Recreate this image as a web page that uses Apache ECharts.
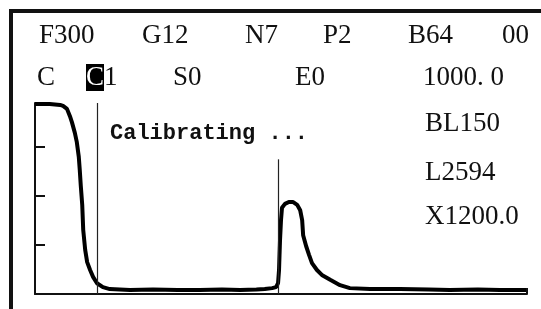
<!DOCTYPE html>
<html>
<head>
<meta charset="utf-8">
<script src="https://cdn.jsdelivr.net/npm/echarts@6/dist/echarts.min.js"></script>
<style>
  html, body { margin: 0; padding: 0; background: #fff; }
  #chart { width: 541px; height: 309px; }
</style>
</head>
<body>
<div id="chart"></div>
<script>
// trace (x = channel, y = signal)
var traceX = [0, 30, 51, 57, 65, 71, 75, 81, 85, 89, 91, 93, 96, 98, 102, 106, 112, 118, 126, 138, 152, 193,
  240, 290, 335, 380, 417, 450, 467, 482, 490, 494, 496, 498, 500, 502, 508, 516, 524, 533, 539, 543, 545,
  551, 557, 563, 573, 583, 600, 620, 640, 681, 742, 800, 843, 900, 945, 998];
var traceY = [3.88, 3.88, 3.86, 3.84, 3.78, 3.63, 3.51, 3.29, 3.10, 2.80, 2.53, 2.22, 1.82, 1.31, 0.90, 0.65, 0.49, 0.35, 0.22, 0.14, 0.10, 0.08,
  0.09, 0.08, 0.08, 0.09, 0.08, 0.09, 0.10, 0.12, 0.14, 0.22, 0.49, 1.10, 1.51, 1.76, 1.84, 1.88, 1.88, 1.82, 1.71, 1.51, 1.20,
  0.98, 0.80, 0.63, 0.49, 0.39, 0.29, 0.18, 0.12, 0.10, 0.10, 0.09, 0.08, 0.09, 0.08, 0.08];

// cursor lines: position and how high they reach
var cursorX = [126, 494];
var cursorTop = [3.9, 2.75];

// status texts on the screen
var topRow = ['F300', 'G12', 'N7', 'P2', 'B64', '00'];
var topRowX = [39, 142, 245, 323, 408, 502];
var secondRow = ['C', '{hl|C}1', 'S0', 'E0', '1000. 0'];
var secondRowX = [37, 86, 173, 295, 423];
var sideTexts = ['BL150', 'L2594', 'X1200.0'];
var sideTextsY = [125, 174, 218];

var chart = echarts.init(document.getElementById('chart'));

var ink = '#111';
var serif = '"Liberation Serif", "DejaVu Serif", serif';

var points = traceX.map(function (x, i) { return [x, traceY[i]]; });

var graphics = [
  {
    type: 'polyline',
    shape: { points: [[11, 309], [11, 11], [541, 11]] },
    style: { stroke: ink, lineWidth: 4, fill: null }
  }
];
topRow.forEach(function (t, i) {
  graphics.push({
    type: 'text', left: topRowX[i], top: 22,
    style: { text: t, fill: ink, font: '27px ' + serif }
  });
});
secondRow.forEach(function (t, i) {
  graphics.push({
    type: 'text', left: secondRowX[i], top: 64,
    style: {
      text: t, fill: ink, font: '27px ' + serif,
      rich: { hl: { backgroundColor: '#000', fill: '#fff', fontSize: 27, fontFamily: serif } }
    }
  });
});
sideTexts.forEach(function (t, i) {
  graphics.push({
    type: 'text', left: 425, top: sideTextsY[i] - 15,
    style: { text: t, fill: ink, font: '27px ' + serif }
  });
});
graphics.push({
  type: 'text', left: 110, top: 122,
  style: { text: 'Calibrating ...', fill: ink, font: 'bold 22px "Liberation Mono", "DejaVu Sans Mono", monospace' }
});

var option = {
  backgroundColor: '#fff',
  animation: false,
  grid: { left: 35, right: 14, top: 103, bottom: 15 },
  xAxis: {
    type: 'value', min: 0, max: 1000, interval: 1000,
    axisLine: { show: true, onZero: false, lineStyle: { color: ink, width: 2 } },
    axisTick: { show: true, inside: true, length: 6, lineStyle: { color: ink, width: 2 } },
    axisLabel: { show: false },
    splitLine: { show: false }
  },
  yAxis: {
    type: 'value', min: 0, max: 3.9, interval: 1,
    axisLine: { show: true, lineStyle: { color: ink, width: 2 } },
    axisTick: { show: true, inside: true, length: 10, lineStyle: { color: ink, width: 2 } },
    axisLabel: { show: false },
    splitLine: { show: false }
  },
  series: [{
    type: 'line',
    data: points,
    showSymbol: false,
    lineStyle: { color: '#000', width: 4 },
    markLine: {
      silent: true,
      symbol: 'none',
      label: { show: false },
      lineStyle: { color: '#222', width: 1.2, type: 'solid' },
      data: cursorX.map(function (x, i) {
        return [{ coord: [x, 0] }, { coord: [x, cursorTop[i]] }];
      })
    }
  }],
  graphic: graphics
};

chart.setOption(option);
</script>
</body>
</html>
